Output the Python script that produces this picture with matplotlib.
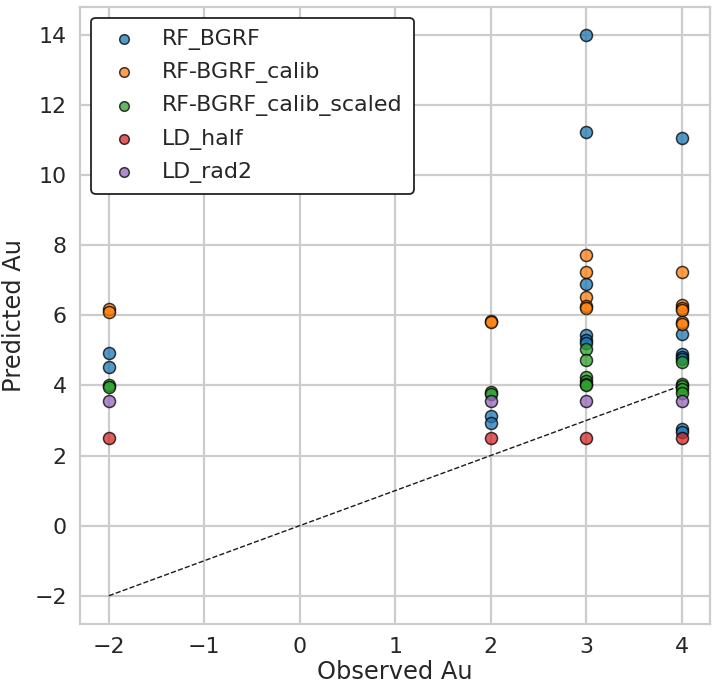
import matplotlib
matplotlib.use("Agg")
import matplotlib.pyplot as plt
import seaborn as sns

sns.set_theme(style="whitegrid", font_scale=1.45)
plt.rcParams["grid.linewidth"] = 1.6
plt.rcParams["axes.linewidth"] = 1.6

# observed / predicted values per model
rf_bgrf_x = [-2, -2, 2, 2, 3, 3, 3, 3, 3, 3, 4, 4, 4, 4, 4, 4, 4]
rf_bgrf_y = [4.93, 4.52, 3.13, 2.92, 14.0, 11.22, 6.9, 5.45, 5.3, 5.2,
             11.05, 5.48, 4.9, 4.82, 4.75, 2.75, 2.68]

calib_x = [-2, -2, 2, 2, 3, 3, 3, 3, 3, 4, 4, 4, 4, 4, 4]
calib_y = [6.17, 6.1, 5.84, 5.8, 7.73, 7.25, 6.53, 6.27, 6.2,
           7.23, 6.3, 6.22, 6.15, 5.8, 5.75]

scaled_x = [-2, -2, 2, 2, 3, 3, 3, 3, 3, 3, 4, 4, 4, 4, 4]
scaled_y = [4.0, 3.95, 3.8, 3.75, 5.03, 4.72, 4.23, 4.12, 4.03, 4.0,
            4.68, 4.05, 3.97, 3.9, 3.78]

ld_half_x = [-2, 2, 3, 4]
ld_half_y = [2.5, 2.5, 2.5, 2.5]

ld_rad2_x = [-2, 2, 3, 4]
ld_rad2_y = [3.57, 3.57, 3.57, 3.57]

series = [
    ("RF_BGRF", rf_bgrf_x, rf_bgrf_y, "tab:blue"),
    ("RF-BGRF_calib", calib_x, calib_y, "tab:orange"),
    ("RF-BGRF_calib_scaled", scaled_x, scaled_y, "tab:green"),
    ("LD_half", ld_half_x, ld_half_y, "tab:red"),
    ("LD_rad2", ld_rad2_x, ld_rad2_y, "tab:purple"),
]

fig, ax = plt.subplots(figsize=(7.16, 6.87), dpi=100)

for name, xs, ys, col in series:
    ax.scatter(xs, ys, s=75, color=col, edgecolor="black", linewidth=1.1,
               alpha=0.75, label=name, zorder=3)

ax.plot([-2, 4], [-2, 4], "k--", linewidth=1, zorder=2)

ax.set_xlabel("Observed Au", labelpad=2)
ax.set_ylabel("Predicted Au", labelpad=6)
ax.set_xticks([-2, -1, 0, 1, 2, 3, 4])
ax.set_yticks([-2, 0, 2, 4, 6, 8, 10, 12, 14])

leg = ax.legend(loc="upper left", frameon=True, fancybox=True,
                markerscale=0.8, borderaxespad=0.5, handletextpad=0.7,
                labelspacing=0.55, borderpad=0.5)
leg.get_frame().set_edgecolor("#222222")
leg.get_frame().set_linewidth(1.3)
leg.get_frame().set_alpha(1)

fig.subplots_adjust(left=0.112, right=0.992, top=0.99, bottom=0.092)
fig.savefig("out.png")
